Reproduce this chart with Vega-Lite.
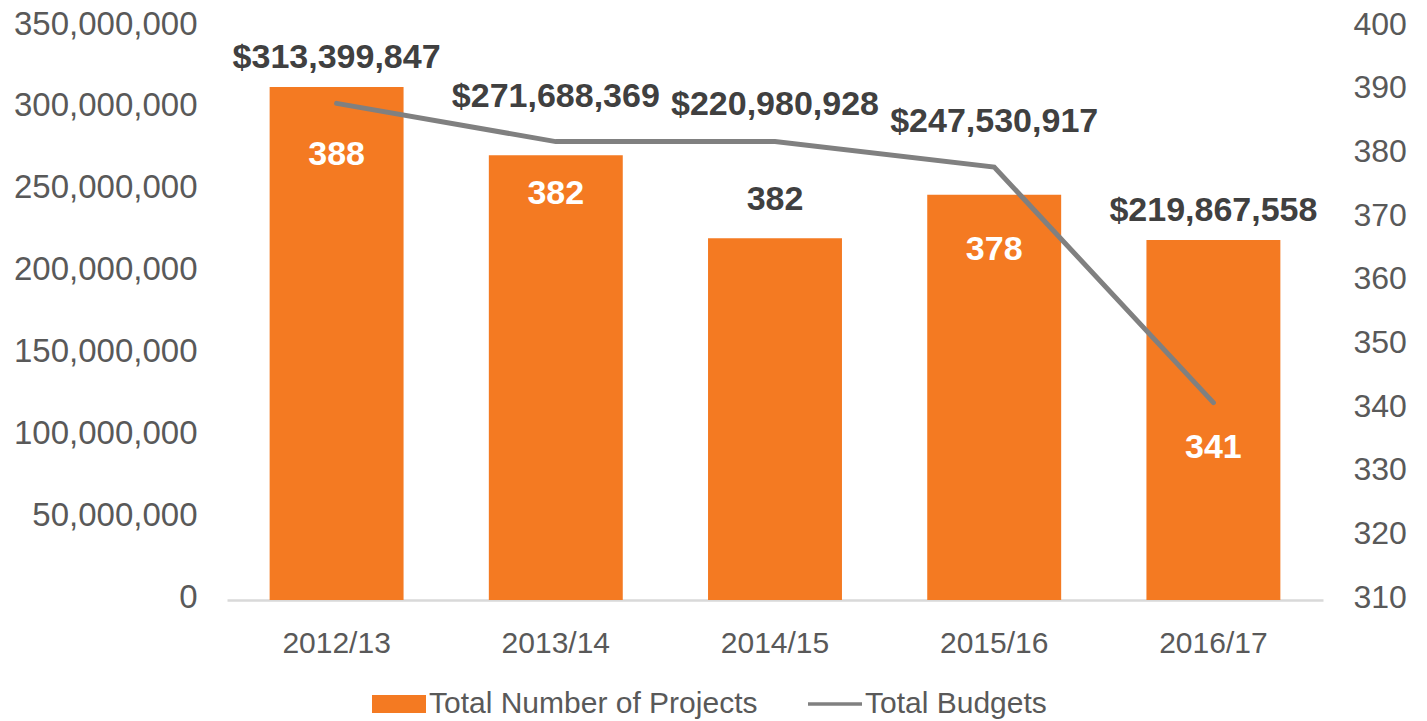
{
  "$schema": "https://vega.github.io/schema/vega-lite/v6.json",
  "width": 1096,
  "height": 573,
  "autosize": {"type": "none"},
  "padding": {"left": 227, "top": 27, "right": 104, "bottom": 121},
  "background": "white",
  "config": {"view": {"stroke": null}, "font": "Liberation Sans"},
  "data": {
    "values": [
      {"year": "2012/13", "budget": 313399847, "projects": 388},
      {"year": "2013/14", "budget": 271688369, "projects": 382},
      {"year": "2014/15", "budget": 220980928, "projects": 382},
      {"year": "2015/16", "budget": 247530917, "projects": 378},
      {"year": "2016/17", "budget": 219867558, "projects": 341}
    ]
  },
  "encoding": {
    "x": {
      "field": "year",
      "type": "ordinal",
      "scale": {"paddingInner": 0.389, "paddingOuter": 0.1945},
      "axis": {
        "title": null,
        "labelAngle": 0,
        "labelFontSize": 30,
        "labelColor": "#595959",
        "labelPadding": 28,
        "ticks": false,
        "domainColor": "#D9D9D9",
        "domainWidth": 2.5
      }
    }
  },
  "layer": [
    {
      "layer": [
        {
          "mark": {"type": "bar"},
          "encoding": {
            "y": {
              "field": "budget",
              "type": "quantitative",
              "scale": {"domain": [0, 350000000], "nice": false},
              "axis": {
                "title": null,
                "values": [0, 50000000, 100000000, 150000000, 200000000, 250000000, 300000000, 350000000],
                "format": ",d",
                "labelFontSize": 33,
                "labelColor": "#595959",
                "labelPadding": 30,
                "labelOffset": -3,
                "labelLimit": 400,
                "ticks": false,
                "domain": false,
                "grid": false
              }
            },
            "color": {
              "datum": "Total Number of Projects",
              "type": "nominal",
              "scale": {
                "domain": ["Total Number of Projects", "Total Budgets"],
                "range": ["#F47A22", "#808080"]
              },
              "legend": {
                "title": null,
                "orient": "none",
                "direction": "horizontal",
                "legendX": 145,
                "legendY": 650,
                "symbolSize": 2916,
                "labelFontSize": 30,
                "labelColor": "#595959",
                "labelOffset": 3,
                "labelLimit": 1000,
                "columnPadding": 50,
                "encode": {
                  "symbols": {
                    "update": {
                      "shape": {"signal": "datum.value === 'Total Budgets' ? 'M-1,-0.065H1V0.065H-1Z' : 'M-1,-0.333H1V0.333H-1Z'"},
                      "fill": {"signal": "datum.value === 'Total Budgets' ? '#808080' : '#F47A22'"},
                      "strokeWidth": {"value": 0},
                      "opacity": {"value": 1}
                    }
                  }
                }
              }
            }
          }
        },
        {
          "transform": [{"filter": "datum.year === '2016/17'"}],
          "mark": {"type": "text", "dy": -29, "fontWeight": "bold", "fontSize": 34, "color": "#404040"},
          "encoding": {
            "y": {"field": "budget", "type": "quantitative"},
            "text": {"field": "budget", "type": "quantitative", "format": "$,d"}
          }
        }
      ]
    },
    {
      "layer": [
        {
          "mark": {"type": "line", "strokeWidth": 5, "strokeCap": "round"},
          "encoding": {
            "y": {
              "field": "projects",
              "type": "quantitative",
              "scale": {"domain": [310, 400], "nice": false, "zero": false},
              "axis": {
                "orient": "right",
                "title": null,
                "values": [310, 320, 330, 340, 350, 360, 370, 380, 390, 400],
                "labelFontSize": 32,
                "labelColor": "#595959",
                "labelPadding": 30,
                "labelOffset": -3,
                "ticks": false,
                "domain": false,
                "grid": false
              }
            },
            "color": {"datum": "Total Budgets", "type": "nominal"}
          }
        },
        {
          "transform": [{"filter": "datum.year !== '2016/17' && datum.year !== '2014/15'"}],
          "mark": {"type": "text", "dy": -45, "fontWeight": "bold", "fontSize": 34, "color": "#404040"},
          "encoding": {
            "y": {"field": "projects", "type": "quantitative"},
            "text": {"field": "budget", "type": "quantitative", "format": "$,d"}
          }
        },
        {
          "transform": [{"filter": "datum.year === '2014/15'"}],
          "mark": {"type": "text", "dy": -37, "fontWeight": "bold", "fontSize": 34, "color": "#404040"},
          "encoding": {
            "y": {"field": "projects", "type": "quantitative"},
            "text": {"field": "budget", "type": "quantitative", "format": "$,d"}
          }
        },
        {
          "transform": [{"filter": "datum.year === '2012/13' || datum.year === '2013/14'"}],
          "mark": {"type": "text", "dy": 52, "fontWeight": "bold", "fontSize": 34, "color": "white"},
          "encoding": {
            "y": {"field": "projects", "type": "quantitative"},
            "text": {"field": "projects", "type": "quantitative"}
          }
        },
        {
          "transform": [{"filter": "datum.year === '2014/15'"}],
          "mark": {"type": "text", "dy": 58, "fontWeight": "bold", "fontSize": 34, "color": "#404040"},
          "encoding": {
            "y": {"field": "projects", "type": "quantitative"},
            "text": {"field": "projects", "type": "quantitative"}
          }
        },
        {
          "transform": [{"filter": "datum.year === '2015/16'"}],
          "mark": {"type": "text", "dy": 83, "fontWeight": "bold", "fontSize": 34, "color": "white"},
          "encoding": {
            "y": {"field": "projects", "type": "quantitative"},
            "text": {"field": "projects", "type": "quantitative"}
          }
        },
        {
          "transform": [{"filter": "datum.year === '2016/17'"}],
          "mark": {"type": "text", "dy": 45, "fontWeight": "bold", "fontSize": 34, "color": "white"},
          "encoding": {
            "y": {"field": "projects", "type": "quantitative"},
            "text": {"field": "projects", "type": "quantitative"}
          }
        }
      ]
    }
  ],
  "resolve": {"scale": {"y": "independent"}}
}
